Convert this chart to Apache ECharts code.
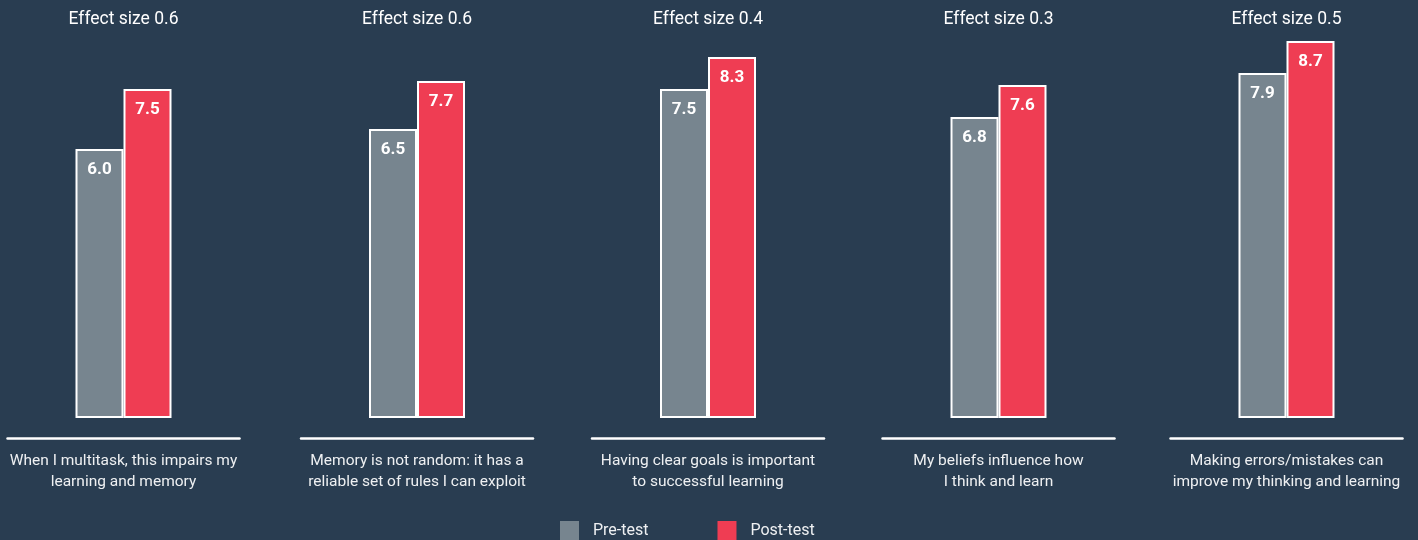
<!DOCTYPE html>
<html>
<head>
<meta charset="utf-8">
<script src="https://cdn.jsdelivr.net/npm/echarts@6/dist/echarts.min.js"></script>
<style>
html,body{margin:0;padding:0;background:#293d51;}
#chart{width:1418px;height:540px;}
</style>
</head>
<body>
<div id="chart"></div>
<script>
var categories = [
  "When I multitask, this impairs my\nlearning and memory",
  "Memory is not random: it has a\nreliable set of rules I can exploit",
  "Having clear goals is important\nto successful learning",
  "My beliefs influence how\nI think and learn",
  "Making errors/mistakes can\nimprove my thinking and learning"
];
var preTest = [6.0, 6.5, 7.5, 6.8, 7.9];
var postTest = [7.5, 7.7, 8.3, 7.6, 8.7];
var effectSizes = [0.6, 0.6, 0.4, 0.3, 0.5];
var seriesNames = ["Pre-test", "Post-test"];

var centers = [123.5, 417, 708, 998.5, 1286.5];
var FONT = "Roboto, 'Noto Sans', sans-serif";
var textColor = "#eef0f2";
var preColor = "#77858f";
var postColor = "#ef3d53";
var AXIS_MIN = -0.725, AXIS_MAX = 9.475;

var grids = [], xAxes = [], yAxes = [], series = [], titles = [];
categories.forEach(function (cat, i) {
  grids.push({ left: centers[i] - 116, width: 232, top: 10, bottom: 122, containLabel: false, outerBoundsMode: "none" });
  xAxes.push({
    type: "category", gridIndex: i, data: [cat], offset: 20,
    axisLine: { show: true, onZero: false, lineStyle: { color: "#ffffff", width: 2.5 } },
    axisTick: { show: false },
    axisLabel: { color: textColor, fontFamily: FONT, fontSize: 15.5, lineHeight: 21, margin: 13, interval: 0 }
  });
  yAxes.push({ type: "value", gridIndex: i, min: AXIS_MIN, max: AXIS_MAX, startValue: AXIS_MIN, show: false, splitLine: { show: false } });
  titles.push({
    text: "Effect size " + effectSizes[i].toFixed(1),
    left: centers[i] - 5, top: 6, textAlign: "center",
    textStyle: { color: "#ffffff", fontFamily: FONT, fontSize: 17.5, fontWeight: "normal" }
  });
  [preTest, postTest].forEach(function (arr, k) {
    series.push({
      type: "bar", name: seriesNames[k], xAxisIndex: i, yAxisIndex: i,
      data: [arr[i]], barWidth: 48, barGap: "0%",
      itemStyle: { color: k === 0 ? preColor : postColor, borderColor: "#ffffff", borderWidth: 2 },
      label: {
        show: true, position: "insideTop", distance: 12,
        formatter: function (p) { return p.value.toFixed(1); },
        color: "#ffffff", fontFamily: FONT, fontSize: 17, fontWeight: "bold"
      },
      emphasis: { disabled: true },
      animation: false
    });
  });
});

var chart = echarts.init(document.getElementById("chart"));
chart.setOption({
  backgroundColor: "#293d51",
  animation: false,
  title: titles,
  grid: grids,
  xAxis: xAxes,
  yAxis: yAxes,
  series: series,
  legend: {
    data: seriesNames, bottom: 0, left: 560, padding: 0,
    icon: "rect", itemWidth: 19, itemHeight: 19, itemGap: 69,
    itemStyle: { borderWidth: 0 },
    textStyle: { color: textColor, fontFamily: FONT, fontSize: 16, padding: [0, 0, 0, 9] }
  }
});
</script>
</body>
</html>
